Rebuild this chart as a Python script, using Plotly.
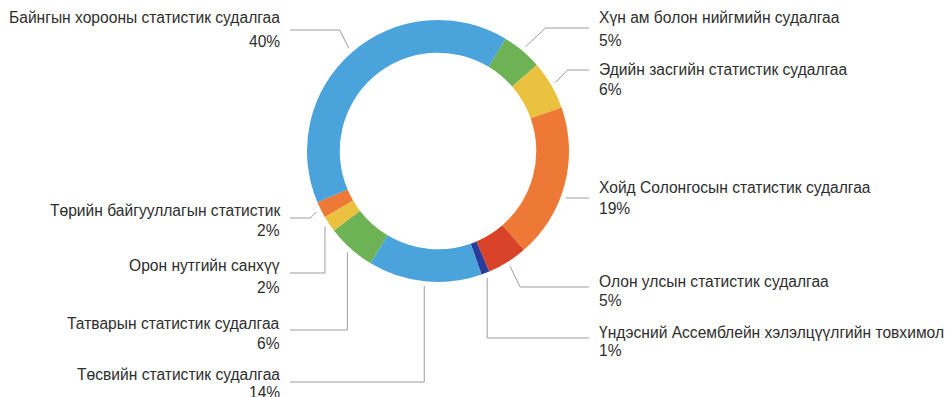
import math
import plotly.graph_objects as go

# Slices in clockwise order, starting just right of 12 o'clock
labels = [
    "Хүн ам болон нийгмийн судалгаа",
    "Эдийн засгийн статистик судалгаа",
    "Хойд Солонгосын статистик судалгаа",
    "Олон улсын статистик судалгаа",
    "Үндэсний Ассемблейн хэлэлцүүлгийн товхимол",
    "Төсвийн статистик судалгаа",
    "Татварын статистик судалгаа",
    "Орон нутгийн санхүү",
    "Төрийн байгууллагын статистик",
    "Байнгын хорооны статистик судалгаа",
]
values = [5, 6, 19, 5, 1, 14, 6, 2, 2, 40]
colors = [
    "#6db356", "#ebc23f", "#ee7835", "#d8432a", "#2c3c9c",
    "#4ba3dc", "#6db356", "#ebc23f", "#ee7835", "#4ba3dc",
]

# Canvas and donut geometry (pixels)
W, H = 947, 397
CX, CY, R = 438, 151, 131
HOLE = 0.75
START = 31          # first slice begins 31 degrees clockwise from the top
R_ANCHOR = R + 5    # where leader lines touch the ring

# Label placement: side, name y, percent y, leader y, leader style, elbow offset
label_layout = [
    ("right", 18, 40, 28, "diag", 20),
    ("right", 70, 89, 70, "diag", 12),
    ("right", 188, 208, 198, "horiz", 0),
    ("right", 281, 300, 287, "diag", 10),
    ("right", 332, 350, 338, "vert", 0),
    ("left", 374, 392, 382, "vert", 0),
    ("left", 323, 343, 330, "vert", 0),
    ("left", 265, 287, 273, "vert", 0),
    ("left", 210, 230, 218, "diag", -6),
    ("left", 18, 42, 30, "diag", -9),
]
RIGHT_TEXT_X, RIGHT_LINE_END = 597, 589
LEFT_TEXT_X, LEFT_LINE_END = 282, 290

FONT = dict(family="Liberation Sans, Arial, Helvetica, sans-serif", size=15.6, color="#2e2e2e")
LINE_COLOR = "#9c9c9c"


def px(x, y):
    return x / W, 1 - y / H


fig = go.Figure(
    go.Pie(
        labels=labels,
        values=values,
        sort=False,
        direction="clockwise",
        rotation=START,
        hole=HOLE,
        marker=dict(colors=colors, line=dict(width=0)),
        textinfo="none",
        hoverinfo="label+percent",
        showlegend=False,
        domain=dict(x=[(CX - R) / W, (CX + R) / W], y=[1 - (CY + R) / H, 1 - (CY - R) / H]),
    )
)

total = sum(values)
annotations = []
shapes = []
cum = 0.0
for name, val, (side, ny, py, ly, style, off) in zip(labels, values, label_layout):
    mid = math.radians(START + 360 * (cum + val / 2) / total)
    cum += val
    ax = CX + R_ANCHOR * math.sin(mid)
    ay = CY - R_ANCHOR * math.cos(mid)
    end_x = RIGHT_LINE_END if side == "right" else LEFT_LINE_END

    if style == "vert":
        pts = [(ax, ay), (ax, ly), (end_x, ly)]
    elif style == "diag":
        pts = [(ax, ay), (ax + off, ly), (end_x, ly)]
    else:  # horizontal run straight off the ring
        hx = CX + math.copysign(math.sqrt(max(R_ANCHOR**2 - (ly - CY) ** 2, 0)), 1 if side == "right" else -1)
        pts = [(hx, ly), (end_x, ly)]

    path = ""
    for i, (x, y) in enumerate(pts):
        u, v = px(x, y)
        path += ("M" if i == 0 else " L") + f" {u:.5f},{v:.5f}"
    shapes.append(dict(type="path", xref="paper", yref="paper", path=path,
                       line=dict(color=LINE_COLOR, width=1)))

    tx = RIGHT_TEXT_X if side == "right" else LEFT_TEXT_X
    anchor = "left" if side == "right" else "right"
    for text, ty in ((name, ny), (f"{val}%", py)):
        u, v = px(tx, ty)
        annotations.append(dict(text=text, x=u, y=v, xref="paper", yref="paper",
                                xanchor=anchor, yanchor="middle", showarrow=False,
                                font=FONT, align=anchor))

fig.update_layout(
    width=W, height=H,
    margin=dict(l=0, r=0, t=0, b=0),
    paper_bgcolor="white", plot_bgcolor="white",
    annotations=annotations, shapes=shapes,
)

fig.write_html("out.html", include_plotlyjs=True, config={"displayModeBar": False})
